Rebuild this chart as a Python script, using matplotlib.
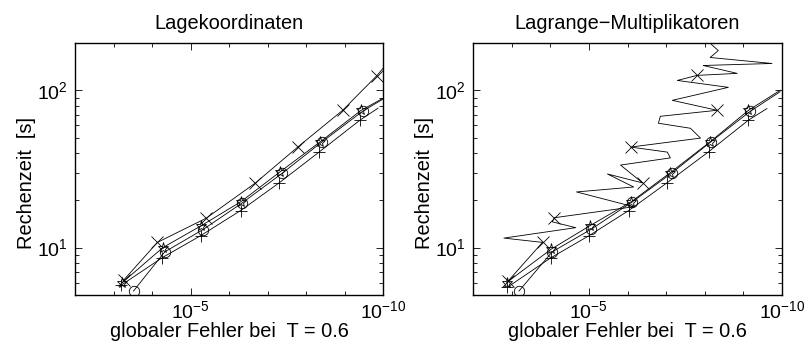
import numpy as np
import matplotlib
matplotlib.use("Agg")
import matplotlib.pyplot as plt
from matplotlib.ticker import FixedLocator, LogLocator, NullFormatter, LogFormatterMathtext

plt.rcParams['font.family'] = ['Liberation Sans', 'DejaVu Sans']
plt.rcParams['mathtext.fontset'] = 'custom'
plt.rcParams['mathtext.rm'] = 'Liberation Sans'
plt.rcParams['mathtext.it'] = 'Liberation Sans:italic'
plt.rcParams['font.size'] = 14

# --- Lagekoordinaten (exponents of the global error, computing time in s) ---
lk_x_exp = [-3.26, -4.14, -5.41, -6.68, -7.79, -8.95, -9.84, -10.0]
lk_x_t = [6.2, 10.8, 15.4, 25.7, 43.7, 74.6, 124, 138]
lk_star_exp = [-3.23, -4.28, -5.28, -6.31, -7.33, -8.37, -9.43, -10.0]
lk_star_t = [6.0, 10.0, 13.8, 19.6, 30.4, 47.1, 74.6, 89]
lk_o_exp = [-3.52, -4.33, -5.32, -6.35, -7.38, -8.41, -9.47, -10.0]
lk_o_t = [5.3, 9.4, 13.0, 19.3, 29.7, 46.9, 73.6, 88]
lk_plus_exp = [-3.19, -4.27, -5.26, -6.30, -7.31, -8.35, -9.40, -9.87]
lk_plus_t = [5.75, 8.65, 11.9, 17.2, 25.9, 40.7, 64.6, 77]

# --- Lagrange-Multiplikatoren ---
lm_x_exp = [-2.90, -3.80, -2.80, -4.66, -4.05, -4.11, -6.16, -4.68, -6.16, -5.48,
            -6.39, -5.82, -7.11, -7.03, -6.08, -7.89, -7.63, -6.80, -6.85, -8.32,
            -7.16, -8.61, -7.29, -7.80, -8.84, -7.96, -9.74, -8.14, -8.35, -8.01]
lm_x_t = [6.1, 10.8, 11.5, 13.4, 14.6, 15.5, 18.2, 22.6, 24.3, 29.4,
          25.8, 33.5, 37.2, 40.5, 43.6, 49.7, 57.4, 61.8, 68.4, 74.7,
          86.4, 104.5, 115.6, 124.5, 128.2, 143.9, 148.2, 161.8, 179, 213]
lm_x_marks = [0, 1, 5, 10, 14, 19, 23]
lm_star_exp = [-2.87, -4.03, -5.03, -6.10, -7.11, -8.14, -9.13, -9.95]
lm_star_t = [6.0, 9.8, 13.8, 19.6, 30.0, 47.1, 74.6, 100]
lm_o_exp = [-3.19, -4.05, -5.06, -6.12, -7.16, -8.16, -9.18, -9.95]
lm_o_t = [5.3, 9.4, 13.1, 19.5, 30.0, 47.1, 73.6, 98]
lm_plus_exp = [-2.89, -4.01, -5.00, -6.03, -7.03, -8.10, -9.13, -9.61]
lm_plus_t = [5.6, 8.6, 11.9, 17.2, 25.9, 40.7, 64.6, 76.6]

titles = ['Lagekoordinaten', 'Lagrange\u2212Multiplikatoren']
xlabel = 'globaler Fehler bei  T = 0.6'
ylabel = 'Rechenzeit  [s]'


def draw(ax, exp, t, marker, ms, marks):
    err = 10.0 ** np.array(exp)
    ax.plot(err, t, color='k', linewidth=0.6, marker=marker, markersize=ms,
            markerfacecolor='none', markeredgecolor='k', markeredgewidth=0.6,
            markevery=marks)


def style(ax, title):
    ax.set_xscale('log')
    ax.set_yscale('log')
    ax.set_xlim(1e-2, 1e-10)
    ax.set_ylim(5, 200)
    ax.xaxis.set_major_locator(FixedLocator([1e-5, 1e-10]))
    ax.xaxis.set_major_formatter(LogFormatterMathtext())
    ax.xaxis.set_minor_locator(FixedLocator([10.0 ** -k for k in range(2, 11)]))
    ax.xaxis.set_minor_formatter(NullFormatter())
    ax.yaxis.set_major_locator(FixedLocator([10, 100]))
    ax.yaxis.set_major_formatter(LogFormatterMathtext())
    ax.yaxis.set_minor_locator(LogLocator(base=10, subs=np.arange(2, 10)))
    ax.yaxis.set_minor_formatter(NullFormatter())
    ax.tick_params(which='both', direction='in', top=True, right=True, width=0.6,
                   labelsize=14)
    ax.tick_params(which='major', length=5)
    ax.tick_params(which='minor', length=3)
    ax.tick_params(axis='x', pad=4)
    ax.tick_params(axis='y', pad=5)
    for s in ax.spines.values():
        s.set_linewidth(1.0)
    ax.set_title(title, fontsize=14.4, pad=10)
    ax.set_xlabel(xlabel, fontsize=14.4, labelpad=0)
    ax.set_ylabel(ylabel, fontsize=14.4)
    ax.yaxis.set_label_coords(-0.125, 0.444)


fig = plt.figure(figsize=(8.05, 3.52), dpi=100)
ax1 = fig.add_axes([75 / 805, 57 / 352, 308 / 805, 252 / 352])
ax2 = fig.add_axes([473 / 805, 57 / 352, 309 / 805, 252 / 352])

draw(ax1, lk_x_exp, lk_x_t, 'x', 9, slice(0, 7))
draw(ax1, lk_star_exp, lk_star_t, '*', 8, slice(0, 7))
draw(ax1, lk_o_exp, lk_o_t, 'o', 7.5, slice(0, 7))
draw(ax1, lk_plus_exp, lk_plus_t, '+', 8, slice(0, 7))
style(ax1, titles[0])

draw(ax2, lm_x_exp, lm_x_t, 'x', 9, lm_x_marks)
draw(ax2, lm_star_exp, lm_star_t, '*', 8, slice(0, 7))
draw(ax2, lm_o_exp, lm_o_t, 'o', 7.5, slice(0, 7))
draw(ax2, lm_plus_exp, lm_plus_t, '+', 8, slice(0, 7))
style(ax2, titles[1])

fig.savefig('out.png', dpi=100)
